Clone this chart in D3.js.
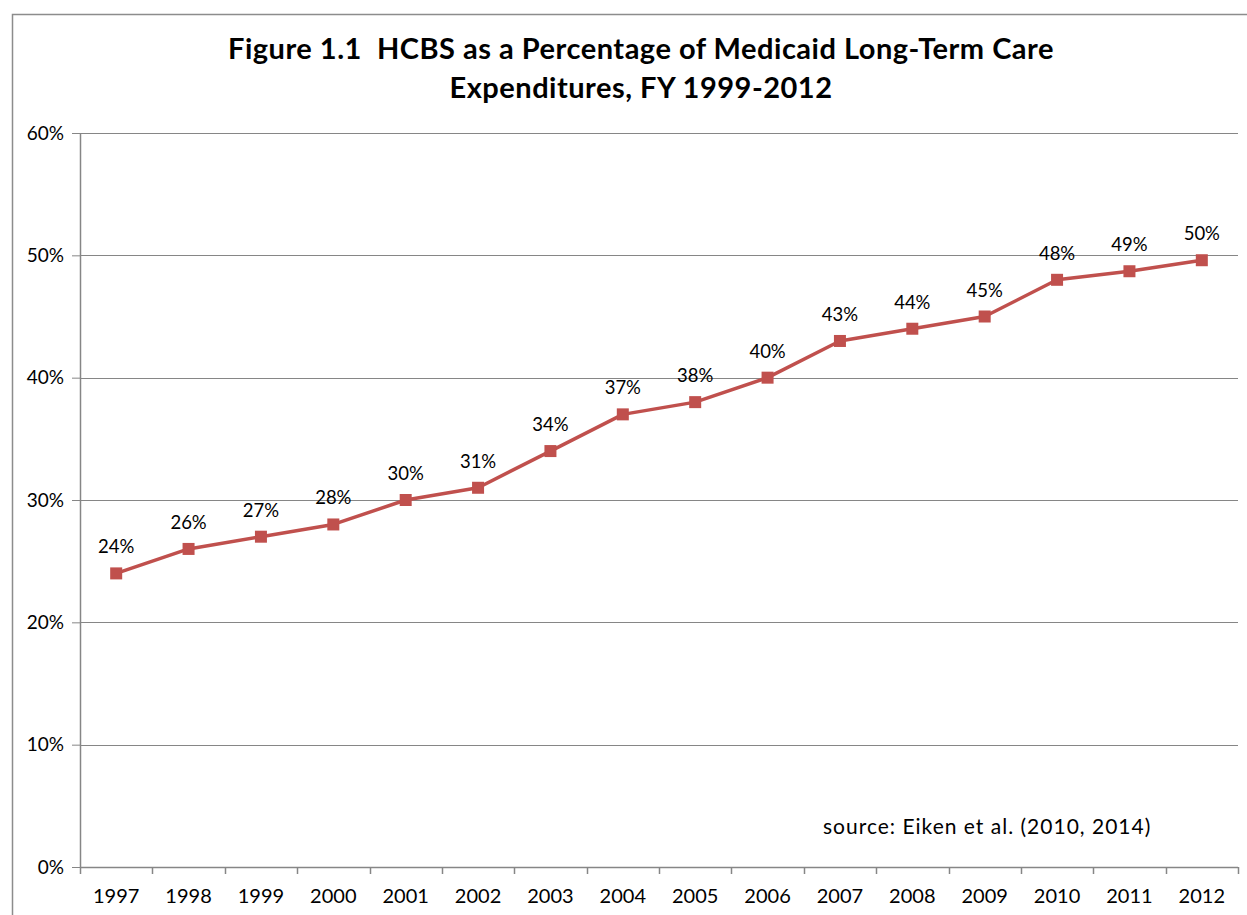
<!DOCTYPE html>
<html>
<head>
<meta charset="utf-8">
<script src="https://cdn.jsdelivr.net/npm/d3@7"></script>
<style>
  html, body { margin: 0; padding: 0; background: #fff; }
  svg { display: block; }
  text { font-family: Lato, "Open Sans", sans-serif; fill: #000; }
</style>
</head>
<body>
<div id="chart"></div>
<script>
// HCBS share of Medicaid long-term care spending, by fiscal year
const years = ["1997", "1998", "1999", "2000", "2001", "2002", "2003", "2004",
               "2005", "2006", "2007", "2008", "2009", "2010", "2011", "2012"];
const hcbsShare = [0.24, 0.26, 0.27, 0.28, 0.30, 0.31, 0.34, 0.37,
                   0.38, 0.40, 0.43, 0.44, 0.45, 0.48, 0.487, 0.496];
const yTicks = [0, 0.1, 0.2, 0.3, 0.4, 0.5, 0.6];
const titleLines = ["Figure 1.1  HCBS as a Percentage of Medicaid Long-Term Care",
                    "Expenditures, FY 1999-2012"];
const sourceNote = "source: Eiken et al. (2010, 2014)";

const W = 1247, H = 915;
const margin = { left: 80, right: 9, top: 133, bottom: 48 };
const innerW = W - margin.left - margin.right;
const innerH = H - margin.top - margin.bottom;
const axisColor = "#868686";
const lineColor = "#C0504D";

const svg = d3.select("#chart").append("svg")
  .attr("width", W).attr("height", H);

// chart frame
svg.append("rect")
  .attr("x", 12.5).attr("y", 14.5)
  .attr("width", W + 10).attr("height", H + 10)
  .attr("fill", "none").attr("stroke", "#8c8c8c").attr("stroke-width", 1.5);

// title
const title = svg.append("text")
  .attr("text-anchor", "middle")
  .attr("xml:space", "preserve")
  .style("white-space", "pre")
  .style("font-weight", "bold").style("font-size", "29px")
  .style("letter-spacing", "0.5px");
titleLines.forEach((t, i) => {
  title.append("tspan").attr("x", 641).attr("y", 59 + i * 39).text(t);
});

const g = svg.append("g").attr("transform", `translate(${margin.left},${margin.top})`);

const x = d3.scaleBand().domain(years).range([0, innerW]).padding(0);
const y = d3.scaleLinear().domain([0, 0.6]).range([innerH, 0]);

// horizontal gridlines
g.append("g").selectAll("line").data(yTicks.slice(1)).join("line")
  .attr("x1", 0).attr("x2", innerW)
  .attr("y1", d => Math.round(y(d)) + 0.5).attr("y2", d => Math.round(y(d)) + 0.5)
  .attr("stroke", axisColor).attr("stroke-width", 1);

// y axis
const yAxis = g.append("g")
  .call(d3.axisLeft(y).tickValues(yTicks).tickFormat(d3.format(".0%")).tickSizeInner(8).tickSizeOuter(0).tickPadding(8));
yAxis.select(".domain").attr("stroke", axisColor).attr("stroke-width", 1.5);
yAxis.selectAll(".tick line").attr("stroke", axisColor);
yAxis.selectAll(".tick text").style("font-size", "19px").style("font-family", "Lato, sans-serif").attr("fill", "#000");

// x axis with ticks at category boundaries
const xAxisG = g.append("g").attr("transform", `translate(0,${innerH})`);
xAxisG.append("line").attr("x1", 0).attr("x2", innerW).attr("y1", 0.5).attr("y2", 0.5)
  .attr("stroke", axisColor).attr("stroke-width", 1.5);
const boundaries = years.map(d => x(d)).concat([innerW]);
xAxisG.selectAll(".btick").data(boundaries).join("line")
  .attr("class", "btick")
  .attr("x1", d => Math.round(d) + 0.5).attr("x2", d => Math.round(d) + 0.5)
  .attr("y1", 0).attr("y2", 7)
  .attr("stroke", axisColor).attr("stroke-width", 1.5);
xAxisG.selectAll(".xlabel").data(years).join("text")
  .attr("class", "xlabel")
  .attr("x", d => x(d) + x.bandwidth() / 2)
  .attr("y", 36)
  .attr("text-anchor", "middle")
  .style("font-size", "20px")
  .text(d => d);

// series line
const pts = years.map((yr, i) => ({ yr, v: hcbsShare[i] }));
const line = d3.line().x(d => x(d.yr) + x.bandwidth() / 2).y(d => y(d.v));
g.append("path").datum(pts)
  .attr("d", line)
  .attr("fill", "none").attr("stroke", lineColor).attr("stroke-width", 3.5)
  .attr("stroke-linejoin", "round");

// square markers
const ms = 12;
g.selectAll(".marker").data(pts).join("rect")
  .attr("class", "marker")
  .attr("x", d => x(d.yr) + x.bandwidth() / 2 - ms / 2)
  .attr("y", d => y(d.v) - ms / 2)
  .attr("width", ms).attr("height", ms)
  .attr("fill", lineColor);

// data labels
g.selectAll(".dlabel").data(pts).join("text")
  .attr("class", "dlabel")
  .attr("x", d => x(d.yr) + x.bandwidth() / 2)
  .attr("y", d => y(d.v) - 20)
  .attr("text-anchor", "middle")
  .style("font-size", "18.5px")
  .text(d => d3.format(".0%")(d.v));

// source note
svg.append("text")
  .attr("x", 823).attr("y", 834)
  .style("font-size", "21px")
  .style("letter-spacing", "1px")
  .text(sourceNote);
</script>
</body>
</html>
